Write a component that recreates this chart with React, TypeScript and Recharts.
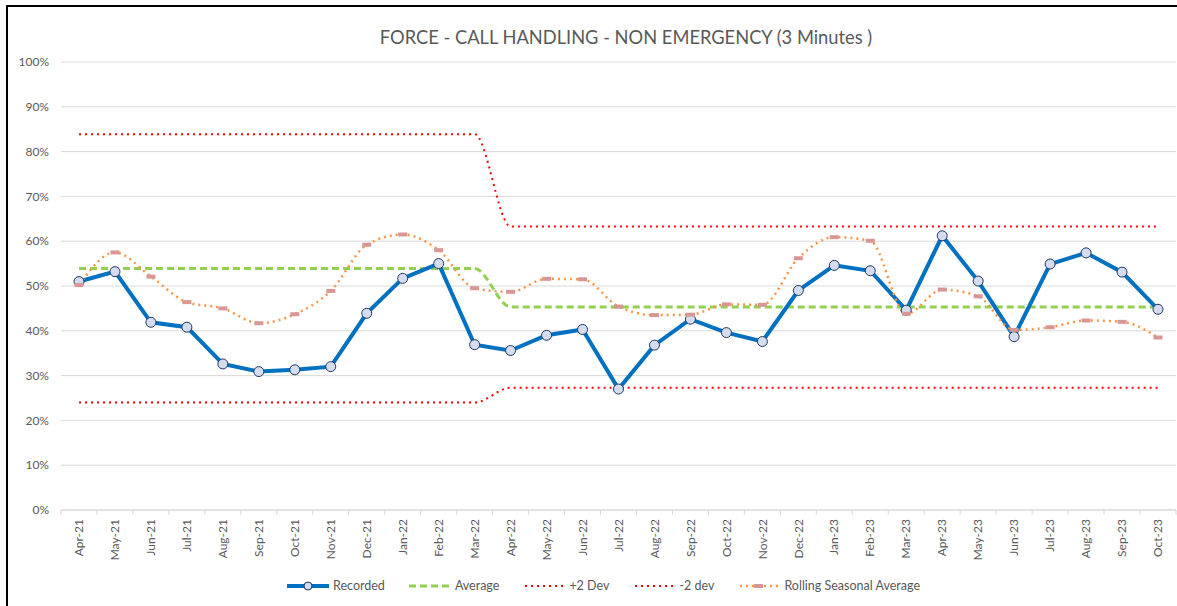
import React from "react";
import { CartesianGrid, Line, LineChart, XAxis, YAxis } from "recharts";

const months = [
  "Apr-21", "May-21", "Jun-21", "Jul-21", "Aug-21", "Sep-21", "Oct-21", "Nov-21",
  "Dec-21", "Jan-22", "Feb-22", "Mar-22", "Apr-22", "May-22", "Jun-22", "Jul-22",
  "Aug-22", "Sep-22", "Oct-22", "Nov-22", "Dec-22", "Jan-23", "Feb-23", "Mar-23",
  "Apr-23", "May-23", "Jun-23", "Jul-23", "Aug-23", "Sep-23", "Oct-23",
];

const recorded = [
  51.0, 53.2, 41.9, 40.8, 32.6, 30.9, 31.3, 32.0, 43.9, 51.7, 55.0, 36.9, 35.6,
  39.0, 40.3, 27.0, 36.8, 42.6, 39.6, 37.6, 49.0, 54.6, 53.4, 44.6, 61.2, 51.1,
  38.7, 54.9, 57.4, 53.1, 44.8,
];

const average = [
  53.9, 53.9, 53.9, 53.9, 53.9, 53.9, 53.9, 53.9, 53.9, 53.9, 53.9, 53.9, 45.3,
  45.3, 45.3, 45.3, 45.3, 45.3, 45.3, 45.3, 45.3, 45.3, 45.3, 45.3, 45.3, 45.3,
  45.3, 45.3, 45.3, 45.3, 45.3,
];

const plus2Dev = [
  83.9, 83.9, 83.9, 83.9, 83.9, 83.9, 83.9, 83.9, 83.9, 83.9, 83.9, 83.9, 63.3,
  63.3, 63.3, 63.3, 63.3, 63.3, 63.3, 63.3, 63.3, 63.3, 63.3, 63.3, 63.3, 63.3,
  63.3, 63.3, 63.3, 63.3, 63.3,
];

const minus2Dev = [
  24.0, 24.0, 24.0, 24.0, 24.0, 24.0, 24.0, 24.0, 24.0, 24.0, 24.0, 24.0, 27.3,
  27.3, 27.3, 27.3, 27.3, 27.3, 27.3, 27.3, 27.3, 27.3, 27.3, 27.3, 27.3, 27.3,
  27.3, 27.3, 27.3, 27.3, 27.3,
];

const rolling = [
  50.2, 57.5, 52.1, 46.4, 45.0, 41.7, 43.7, 48.9, 59.2, 61.5, 58.0, 49.5, 48.7,
  51.6, 51.5, 45.4, 43.5, 43.6, 45.9, 45.8, 56.2, 60.9, 60.1, 43.8, 49.2, 47.7,
  40.2, 40.8, 42.3, 42.0, 38.5,
];

const yTicks = [0, 10, 20, 30, 40, 50, 60, 70, 80, 90, 100];

const data = months.map((m, i) => ({
  month: m,
  recorded: recorded[i],
  average: average[i],
  plus2: plus2Dev[i],
  minus2: minus2Dev[i],
  rolling: rolling[i],
}));

const FONT = "Lato, 'Open Sans', sans-serif";
const GREY = "#595959";
const HALF_BAND = 18;

function MonthTick(props: any) {
  const { x, y, payload, index } = props;
  const last = index === months.length - 1;
  return (
    <g>
      <line x1={x - HALF_BAND} y1={y} x2={x - HALF_BAND} y2={y + 5} stroke="#d9d9d9" />
      {last && <line x1={x + HALF_BAND} y1={y} x2={x + HALF_BAND} y2={y + 5} stroke="#d9d9d9" />}
      <text
        x={x}
        y={y + 9}
        transform={`rotate(-90, ${x}, ${y + 9})`}
        textAnchor="end"
        dy="0.35em"
        fontSize={12}
        fill={GREY}
        fontFamily={FONT}
      >
        {payload.value}
      </text>
    </g>
  );
}

function RollingDot(props: any) {
  const { cx, cy, index } = props;
  if (cx == null || cy == null) return null;
  return <rect key={index} x={cx - 4.5} y={cy - 2} width={9} height={4} fill="#d99694" />;
}

function LegendIcon({ kind }: { kind: string }) {
  return (
    <svg width={42} height={10} style={{ marginRight: 4 }}>
      {kind === "recorded" && (
        <>
          <line x1={0} y1={5} x2={42} y2={5} stroke="#0070c0" strokeWidth={4} />
          <circle cx={21} cy={5} r={4} fill="#d6dcef" stroke="#203864" />
        </>
      )}
      {kind === "average" && (
        <line x1={0} y1={5} x2={42} y2={5} stroke="#92d050" strokeWidth={3} strokeDasharray="7 4" />
      )}
      {kind === "dev" && (
        <line x1={2} y1={5} x2={42} y2={5} stroke="#ff0000" strokeWidth={2} strokeDasharray="2 4" />
      )}
      {kind === "rolling" && (
        <>
          <line x1={2} y1={5} x2={42} y2={5} stroke="#f79646" strokeWidth={2.5} strokeDasharray="2 4" />
          <rect x={16} y={3} width={9} height={4} fill="#d99694" />
        </>
      )}
    </svg>
  );
}

const legendItems = [
  { kind: "recorded", label: "Recorded" },
  { kind: "average", label: "Average" },
  { kind: "dev", label: "+2 Dev" },
  { kind: "dev", label: "-2 dev" },
  { kind: "rolling", label: "Rolling Seasonal Average" },
];

export default function App() {
  return (
    <div
      style={{
        position: "absolute",
        left: 0,
        top: 0,
        width: 1177,
        height: 606,
        overflow: "hidden",
        background: "#fff",
        fontFamily: FONT,
      }}
    >
      <div
        style={{
          position: "absolute",
          left: 6,
          top: 5,
          width: 1300,
          height: 700,
          border: "2px solid #000",
        }}
      />
      <div
        style={{
          position: "absolute",
          top: 26,
          left: 626,
          transform: "translateX(-50%)",
          whiteSpace: "nowrap",
          fontSize: 18.3,
          color: GREY,
        }}
      >
        FORCE - CALL HANDLING - NON EMERGENCY (3 Minutes )
      </div>
      <div style={{ position: "absolute", left: 0, top: 0 }}>
        <LineChart
          width={1177}
          height={606}
          data={data}
          margin={{ top: 62, right: 1, left: 0, bottom: 36 }}
        >
          <CartesianGrid vertical={false} stroke="#d9d9d9" />
          <XAxis
            dataKey="month"
            interval={0}
            height={60}
            tickSize={0}
            tickMargin={0}
            tickLine={false}
            axisLine={{ stroke: "#d9d9d9" }}
            padding={{ left: HALF_BAND, right: HALF_BAND }}
            tick={<MonthTick />}
          />
          <YAxis
            domain={[0, 100]}
            ticks={yTicks}
            width={61}
            tickSize={10}
            tickLine={false}
            axisLine={false}
            tickFormatter={(v: number) => `${v}%`}
            tick={{ fill: GREY, fontSize: 12, fontFamily: FONT }}
          />
          <Line
            dataKey="plus2"
            type="monotone"
            stroke="#ff0000"
            strokeWidth={2}
            strokeDasharray="2 4"
            dot={false}
            isAnimationActive={false}
          />
          <Line
            dataKey="minus2"
            type="monotone"
            stroke="#ff0000"
            strokeWidth={2}
            strokeDasharray="2 4"
            dot={false}
            isAnimationActive={false}
          />
          <Line
            dataKey="average"
            type="monotone"
            stroke="#92d050"
            strokeWidth={3}
            strokeDasharray="7 4"
            dot={false}
            isAnimationActive={false}
          />
          <Line
            dataKey="recorded"
            type="linear"
            stroke="#0070c0"
            strokeWidth={4}
            dot={{ r: 5, fill: "#d6dcef", stroke: "#203864", strokeWidth: 1 }}
            isAnimationActive={false}
          />
          <Line
            dataKey="rolling"
            type="monotone"
            stroke="#f79646"
            strokeWidth={2.5}
            strokeDasharray="2 4"
            dot={<RollingDot />}
            isAnimationActive={false}
          />
        </LineChart>
      </div>
      <div
        style={{
          position: "absolute",
          top: 578,
          left: 287,
          display: "flex",
          alignItems: "center",
          fontSize: 12.5,
          color: GREY,
          whiteSpace: "nowrap",
        }}
      >
        {legendItems.map((it) => (
          <div key={it.label} style={{ display: "flex", alignItems: "center", marginRight: 24 }}>
            <LegendIcon kind={it.kind} />
            <span>{it.label}</span>
          </div>
        ))}
      </div>
    </div>
  );
}
